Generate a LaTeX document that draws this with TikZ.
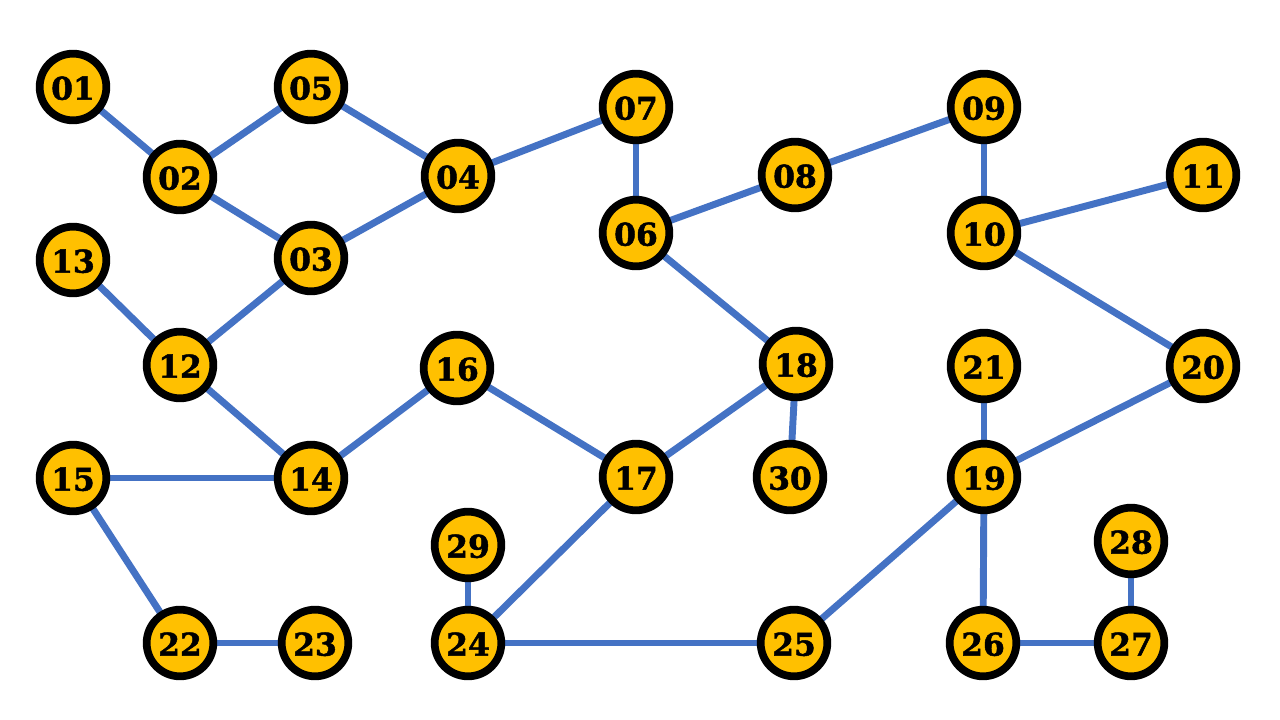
\documentclass[tikz,border=0pt]{standalone}
\usepackage{fontspec}
\setmainfont{DejaVu Serif}
\newfontfamily\numfont[FakeBold=1.5]{DejaVu Serif Bold}
\usetikzlibrary{backgrounds}
\definecolor{nodefill}{HTML}{FFC000}
\definecolor{edgeblue}{HTML}{4472C4}
\begin{document}
\begin{tikzpicture}[x=0.75pt,y=-0.75pt,
  vert/.style={circle,draw=black,line width=5.8pt,fill=nodefill,minimum size=50pt,inner sep=0pt,
    font=\fontsize{23.5}{23.5}\selectfont\numfont,text depth=-2.5pt,text height=19pt},
  link/.style={draw=edgeblue,line width=5.2pt}]
\useasboundingbox (0,0) rectangle (1280,720);
\node[vert] (n01) at (73,87) {01};
\node[vert] (n05) at (311,87) {05};
\node[vert] (n02) at (180,177) {02};
\node[vert] (n04) at (458,176) {04};
\node[vert] (n07) at (636,107) {07};
\node[vert] (n09) at (984,107) {09};
\node[vert] (n08) at (795,175) {08};
\node[vert] (n11) at (1203,175) {11};
\node[vert] (n06) at (636,233) {06};
\node[vert] (n10) at (984,233) {10};
\node[vert] (n13) at (73,260) {13};
\node[vert] (n03) at (311,258) {03};
\node[vert] (n12) at (180,365) {12};
\node[vert] (n16) at (457,368) {16};
\node[vert] (n18) at (796,364) {18};
\node[vert] (n21) at (984,366) {21};
\node[vert] (n20) at (1203,366) {20};
\node[vert] (n15) at (73,478) {15};
\node[vert] (n14) at (311,478) {14};
\node[vert] (n17) at (636,477) {17};
\node[vert] (n30) at (790,477) {30};
\node[vert] (n19) at (984,477) {19};
\node[vert] (n29) at (468,545) {29};
\node[vert] (n28) at (1131,541) {28};
\node[vert] (n22) at (180,643) {22};
\node[vert] (n23) at (315,643) {23};
\node[vert] (n24) at (468,643) {24};
\node[vert] (n25) at (794,643) {25};
\node[vert] (n26) at (983,643) {26};
\node[vert] (n27) at (1131,643) {27};
\begin{scope}[on background layer]
\draw[link] (n01.center) -- (n02.center);
\draw[link] (n02.center) -- (n05.center);
\draw[link] (n05.center) -- (n04.center);
\draw[link] (n02.center) -- (n03.center);
\draw[link] (n03.center) -- (n04.center);
\draw[link] (n04.center) -- (n07.center);
\draw[link] (n07.center) -- (n06.center);
\draw[link] (n06.center) -- (n08.center);
\draw[link] (n08.center) -- (n09.center);
\draw[link] (n09.center) -- (n10.center);
\draw[link] (n10.center) -- (n11.center);
\draw[link] (n10.center) -- (n20.center);
\draw[link] (n06.center) -- (n18.center);
\draw[link] (n13.center) -- (n12.center);
\draw[link] (n12.center) -- (n03.center);
\draw[link] (n12.center) -- (n14.center);
\draw[link] (n14.center) -- (n16.center);
\draw[link] (n16.center) -- (n17.center);
\draw[link] (n17.center) -- (n18.center);
\draw[link] (n18.center) -- (n30.center);
\draw[link] (n15.center) -- (n14.center);
\draw[link] (n15.center) -- (n22.center);
\draw[link] (n22.center) -- (n23.center);
\draw[link] (n17.center) -- (n24.center);
\draw[link] (n29.center) -- (n24.center);
\draw[link] (n24.center) -- (n25.center);
\draw[link] (n25.center) -- (n19.center);
\draw[link] (n19.center) -- (n21.center);
\draw[link] (n19.center) -- (n20.center);
\draw[link] (n19.center) -- (n26.center);
\draw[link] (n26.center) -- (n27.center);
\draw[link] (n27.center) -- (n28.center);
\end{scope}
\end{tikzpicture}
\end{document}
